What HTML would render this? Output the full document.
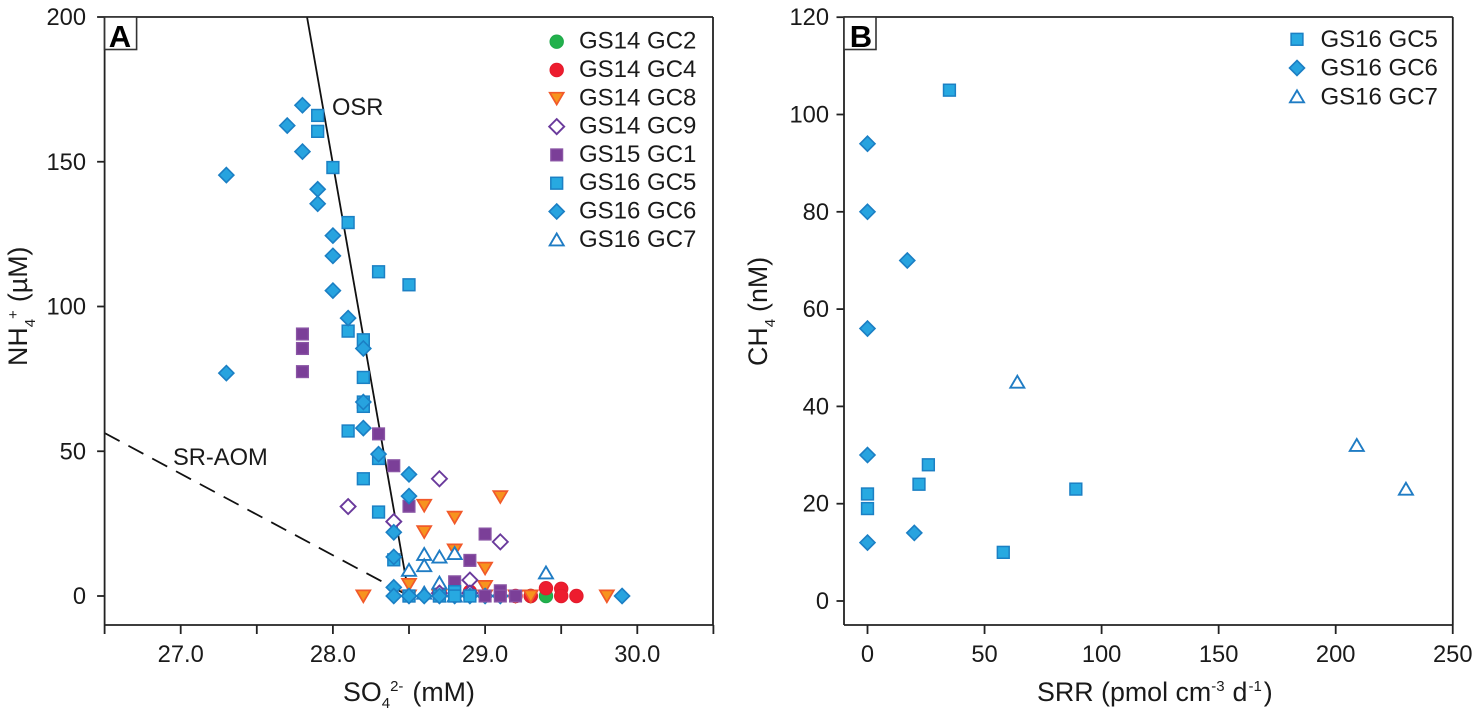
<!DOCTYPE html>
<html lang="en">
<head>
<meta charset="utf-8">
<title>NH4+ vs SO4 2- and CH4 vs SRR</title>
<style>
html,body{margin:0;padding:0;background:#fff;}
svg{display:block;}
text{font-family:"Liberation Sans",Arial,sans-serif;fill:#1a1a1a;}
.tick{font-size:23.7px;}
.leg{font-size:24px;}
.title{font-size:26.8px;}
.small{font-size:15px;}
.panel{font-size:31px;font-weight:bold;fill:#000;}
</style>
</head>
<body>
<svg id="chart" xmlns="http://www.w3.org/2000/svg" width="1476" height="716" viewBox="0 0 1476 716">
  <rect x="0" y="0" width="1476" height="716" fill="#fff"/>
  <g id="linesA"></g>
  <g id="marksA"></g>
  <g id="marksB"></g>
  <g id="axesA"></g>
  <g id="axesB"></g>
  <g id="legendA"></g>
  <g id="legendB"></g>

  <rect x="104.6" y="17" width="32" height="32.5" fill="#fff" stroke="#333" stroke-width="1.6"/>
  <text class="panel" x="120" y="47" text-anchor="middle">A</text>
  <rect x="844" y="17" width="32" height="32.5" fill="#fff" stroke="#333" stroke-width="1.6"/>
  <text class="panel" x="861" y="47" text-anchor="middle">B</text>

  <text class="tick" x="332" y="115">OSR</text>
  <text class="tick" x="173" y="465">SR-AOM</text>

  <text class="title" x="343" y="701">SO<tspan class="small" dy="7">4</tspan><tspan class="small" dy="-17">2-</tspan><tspan dy="10" dx="9">(mM)</tspan></text>
  <text class="title" transform="translate(27,366) rotate(-90)" x="0" y="0">NH<tspan class="small" dy="8">4</tspan><tspan class="small" dy="-17" dx="0">+</tspan><tspan dy="9" dx="8">(µM)</tspan></text>
  <text class="title" x="1037" y="701">SRR (pmol cm<tspan class="small" dy="-10">-3</tspan><tspan dy="10" dx="8">d</tspan><tspan class="small" dy="-10" dx="1">-1</tspan><tspan dy="10" dx="2">)</tspan></text>
  <text class="title" transform="translate(767,366) rotate(-90)" x="0" y="0">CH<tspan class="small" dy="8">4</tspan><tspan dy="-8" dx="7">(nM)</tspan></text>
</svg>
<script>
// Panel A tick data
const xTicksA = [26.5, 27, 27.5, 28, 28.5, 29, 29.5, 30, 30.5];
const xTickLabelsA = ['', '27.0', '', '28.0', '', '29.0', '', '30.0', ''];
const yTicksA = [0, 50, 100, 150, 200];
const yTickLabelsA = ['0', '50', '100', '150', '200'];

// Panel B tick data
const xTicksB = [0, 50, 100, 150, 200, 250];
const xTickLabelsB = ['0', '50', '100', '150', '200', '250'];
const yTicksB = [0, 20, 40, 60, 80, 100, 120];
const yTickLabelsB = ['0', '20', '40', '60', '80', '100', '120'];

// Panel A series: SO4 (mM) and NH4 (uM)
const gc2X = [29.3, 29.4];
const gc2Y = [0, 0];
const gc4X = [28.9, 29.2, 29.3, 29.4, 29.5, 29.5, 29.6];
const gc4Y = [1.5, 0, 0, 2.7, 2.5, 0, 0];
const gc8X = [29.1, 28.6, 28.8, 28.6, 28.8, 29.0, 29.0, 28.2, 28.5, 28.5, 28.7, 29.0, 29.2, 29.3, 29.8];
const gc8Y = [34.3, 31.3, 27.2, 22.2, 15.9, 9.6, 3.3, 0, 4, 0, 0, 0, 0, 0, 0];
const gc7X = [29.4, 28.8, 28.7, 28.6, 28.6, 28.5, 28.7, 28.6, 28.8];
const gc7Y = [8, 14.7, 13.5, 14.4, 10.5, 8.9, 4.5, 1, 0];
const gc9X = [28.7, 28.1, 28.4, 29.1, 28.9, 28.7, 28.9];
const gc9Y = [40.5, 30.9, 25.7, 18.7, 5.5, 1, 1];
const gc6BackX = [28.8, 28.9, 29.0, 29.1];
const gc6BackY = [0, 0, 0, 0];
const gc1X = [27.8, 27.8, 27.8, 28.3, 28.4, 28.5, 29.0, 28.9, 28.8, 28.5, 28.7, 28.8, 29.0, 29.1, 29.1, 29.2];
const gc1Y = [90.5, 85.5, 77.5, 56, 45, 31, 21.4, 12.3, 4.9, 0, 0, 0, 0, 1.8, 0, 0];
const gc5X = [27.9, 27.9, 28.0, 28.1, 28.3, 28.5, 28.1, 28.2, 28.2, 28.2, 28.2, 28.1, 28.3, 28.2, 28.3, 28.4, 28.5, 28.7, 28.8, 28.8, 28.9];
const gc5Y = [166, 160.5, 148, 129, 112, 107.5, 91.5, 88.5, 75.5, 67, 65.5, 57, 47.5, 40.5, 29, 12.5, 0, 0, 1.5, 0, 0];
const gc6X = [27.3, 27.3, 27.7, 27.8, 27.8, 27.9, 27.9, 28.0, 28.0, 28.0, 28.1, 28.2, 28.2, 28.2, 28.3, 28.5, 28.5, 28.4, 28.4, 28.4, 28.4, 28.5, 28.6, 28.7, 29.9];
const gc6Y = [145.4, 77, 162.5, 169.5, 153.5, 140.5, 135.5, 124.5, 117.5, 105.5, 96, 85.5, 67, 58, 49, 42, 34.5, 22, 13.5, 3, 0, 0, 0, 0, 0];

// Panel A reference lines
const osrX = [27.83, 28.5];
const osrY = [200, 0];
const srAomX = [26.5, 28.5];
const srAomY = [56.3, 0];

// Panel B series: SRR and CH4
const bGc5X = [35, 26, 22, 0, 0, 89, 58];
const bGc5Y = [105, 28, 24, 22, 19, 23, 10];
const bGc6X = [0, 0, 17, 0, 0, 20, 0];
const bGc6Y = [94, 80, 70, 56, 30, 14, 12];
const bGc7X = [64, 209, 230];
const bGc7Y = [45, 32, 23];

// Legend labels
const legendLabelsA = ['GS14 GC2', 'GS14 GC4', 'GS14 GC8', 'GS14 GC9', 'GS15 GC1', 'GS16 GC5', 'GS16 GC6', 'GS16 GC7'];
const legendLabelsB = ['GS16 GC5', 'GS16 GC6', 'GS16 GC7'];

const NS = 'http://www.w3.org/2000/svg';
const plotA = {left: 104.6, right: 713, top: 17, bottom: 625};
const plotB = {left: 844, right: 1452.8, top: 17, bottom: 625};

function xA(v) { return 104.6 + (v - 26.5) * 152.2; }
function yA(v) { return 596 - v * 2.895; }
function xB(v) { return 867.5 + v * 2.341; }
function yB(v) { return 601 - v * 4.865; }

const styles = {
  circleGreen: {kind: 'circle', fill: '#22b14c', stroke: '#1fa84a', sw: 1},
  circleRed: {kind: 'circle', fill: '#ed1c2e', stroke: '#e31b2c', sw: 1},
  triDown: {kind: 'down', fill: '#f7931e', stroke: '#f1592a', sw: 1.7},
  hollowDiamond: {kind: 'diamond', fill: '#fff', stroke: '#6a3a9c', sw: 1.9},
  squarePurple: {kind: 'square', fill: '#7b3f98', stroke: '#8a55a5', sw: 1.3},
  squareCyan: {kind: 'square', fill: '#27a9e1', stroke: '#1b80c4', sw: 1.5},
  diamondCyan: {kind: 'diamond', fill: '#27a3df', stroke: '#1b7fc4', sw: 1.6},
  triUp: {kind: 'up', fill: '#fff', stroke: '#1f7cc4', sw: 1.9}
};

function makeMarker(style, cx, cy) {
  let el;
  const k = style.kind;
  if (k === 'circle') {
    el = document.createElementNS(NS, 'circle');
    el.setAttribute('cx', cx);
    el.setAttribute('cy', cy);
    el.setAttribute('r', 6.7);
  } else if (k === 'square') {
    el = document.createElementNS(NS, 'rect');
    el.setAttribute('x', cx - 5.9);
    el.setAttribute('y', cy - 5.9);
    el.setAttribute('width', 11.8);
    el.setAttribute('height', 11.8);
  } else {
    el = document.createElementNS(NS, 'polygon');
    let pts;
    if (k === 'diamond') {
      pts = [[cx, cy - 7.5], [cx + 7.5, cy], [cx, cy + 7.5], [cx - 7.5, cy]];
    } else if (k === 'down') {
      pts = [[cx - 7, cy - 5.6], [cx + 7, cy - 5.6], [cx, cy + 6.3]];
    } else {
      pts = [[cx - 7, cy + 5.6], [cx + 7, cy + 5.6], [cx, cy - 6.3]];
    }
    el.setAttribute('points', pts.map(function (p) { return p.join(','); }).join(' '));
  }
  el.setAttribute('fill', style.fill);
  el.setAttribute('stroke', style.stroke);
  el.setAttribute('stroke-width', style.sw);
  return el;
}

function drawSeries(parent, xs, ys, style, fx, fy, name) {
  for (let i = 0; i < xs.length; i++) {
    const el = makeMarker(style, fx(xs[i]), fy(ys[i]));
    
    
    parent.appendChild(el);
  }
}

function addLine(parent, x1, y1, x2, y2, sw, name, color) {
  const l = document.createElementNS(NS, 'line');
  l.setAttribute('x1', x1);
  l.setAttribute('y1', y1);
  l.setAttribute('x2', x2);
  l.setAttribute('y2', y2);
  l.setAttribute('stroke', color || '#222');
  l.setAttribute('stroke-width', sw);
  
  
  parent.appendChild(l);
  return l;
}

function addText(parent, x, y, str, cls, anchor, name) {
  const t = document.createElementNS(NS, 'text');
  t.setAttribute('x', x);
  t.setAttribute('y', y);
  t.setAttribute('class', cls);
  t.setAttribute('text-anchor', anchor);
  t.textContent = str;
  
  
  parent.appendChild(t);
}

function drawAxes(parent, plot, xTicks, xLabels, yTicks, yLabels, fx, fy, labelRight) {
  addLine(parent, plot.left, plot.top, plot.right, plot.top, 1.8, 'plot-top-border');
  addLine(parent, plot.right, plot.top, plot.right, plot.bottom, 1.8, 'plot-right-border');
  addLine(parent, plot.left, plot.bottom, plot.right, plot.bottom, 1.8, 'x-axis-line');
  addLine(parent, plot.left, plot.top, plot.left, plot.bottom, 1.8, 'y-axis-line');
  xTicks.forEach(function (v, i) {
    addLine(parent, fx(v), plot.bottom, fx(v), plot.bottom + 9, 1.8, 'x-tick');
    if (xLabels[i]) {
      addText(parent, fx(v), 662, xLabels[i], 'tick', 'middle', 'x-tick-label');
    }
  });
  yTicks.forEach(function (v, i) {
    addLine(parent, plot.left - 7.5, fy(v), plot.left, fy(v), 1.8, 'y-tick');
    addText(parent, labelRight, fy(v) + 8, yLabels[i], 'tick', 'end', 'y-tick-label');
  });
}

// Trend lines
const linesA = document.getElementById('linesA');
addLine(linesA, xA(osrX[0]), yA(osrY[0]), xA(osrX[1]), yA(osrY[1]), 1.8, 'osr-line', '#111');
const dashLine = addLine(linesA, xA(srAomX[0]), yA(srAomY[0]), xA(srAomX[1]), yA(srAomY[1]), 1.8, 'sr-aom-line', '#111');
dashLine.setAttribute('stroke-dasharray', '17 10');

// Panel A marks
const marksA = document.getElementById('marksA');
drawSeries(marksA, gc2X, gc2Y, styles.circleGreen, xA, yA, 'gs14-gc2-point');
drawSeries(marksA, gc4X, gc4Y, styles.circleRed, xA, yA, 'gs14-gc4-point');
drawSeries(marksA, gc8X, gc8Y, styles.triDown, xA, yA, 'gs14-gc8-point');
drawSeries(marksA, gc7X, gc7Y, styles.triUp, xA, yA, 'gs16-gc7-point');
drawSeries(marksA, gc9X, gc9Y, styles.hollowDiamond, xA, yA, 'gs14-gc9-point');
drawSeries(marksA, gc6BackX, gc6BackY, styles.diamondCyan, xA, yA, 'gs16-gc6-point');
drawSeries(marksA, gc1X, gc1Y, styles.squarePurple, xA, yA, 'gs15-gc1-point');
drawSeries(marksA, gc5X, gc5Y, styles.squareCyan, xA, yA, 'gs16-gc5-point');
drawSeries(marksA, gc6X, gc6Y, styles.diamondCyan, xA, yA, 'gs16-gc6-point');

// Panel B marks
const marksB = document.getElementById('marksB');
drawSeries(marksB, bGc5X, bGc5Y, styles.squareCyan, xB, yB, 'gs16-gc5-point');
drawSeries(marksB, bGc6X, bGc6Y, styles.diamondCyan, xB, yB, 'gs16-gc6-point');
drawSeries(marksB, bGc7X, bGc7Y, styles.triUp, xB, yB, 'gs16-gc7-point');

// Axes
drawAxes(document.getElementById('axesA'), plotA, xTicksA, xTickLabelsA, yTicksA, yTickLabelsA, xA, yA, 86);
drawAxes(document.getElementById('axesB'), plotB, xTicksB, xTickLabelsB, yTicksB, yTickLabelsB, xB, yB, 829);

// Legends
const legendStylesA = [styles.circleGreen, styles.circleRed, styles.triDown, styles.hollowDiamond, styles.squarePurple, styles.squareCyan, styles.diamondCyan, styles.triUp];
const legendA = document.getElementById('legendA');
legendLabelsA.forEach(function (label, i) {
  const cy = 41.7 + i * 28.3;
  const m = makeMarker(legendStylesA[i], 556.7, cy);
  
  
  legendA.appendChild(m);
  addText(legendA, 579, cy + 7, label, 'leg', 'start', 'legend-entry');
});
const legendStylesB = [styles.squareCyan, styles.diamondCyan, styles.triUp];
const legendB = document.getElementById('legendB');
legendLabelsB.forEach(function (label, i) {
  const cy = 39.3 + i * 28.7;
  const m = makeMarker(legendStylesB[i], 1297, cy);
  
  
  legendB.appendChild(m);
  addText(legendB, 1320.5, cy + 7.6, label, 'leg', 'start', 'legend-entry');
});
</script>
</body>
</html>
